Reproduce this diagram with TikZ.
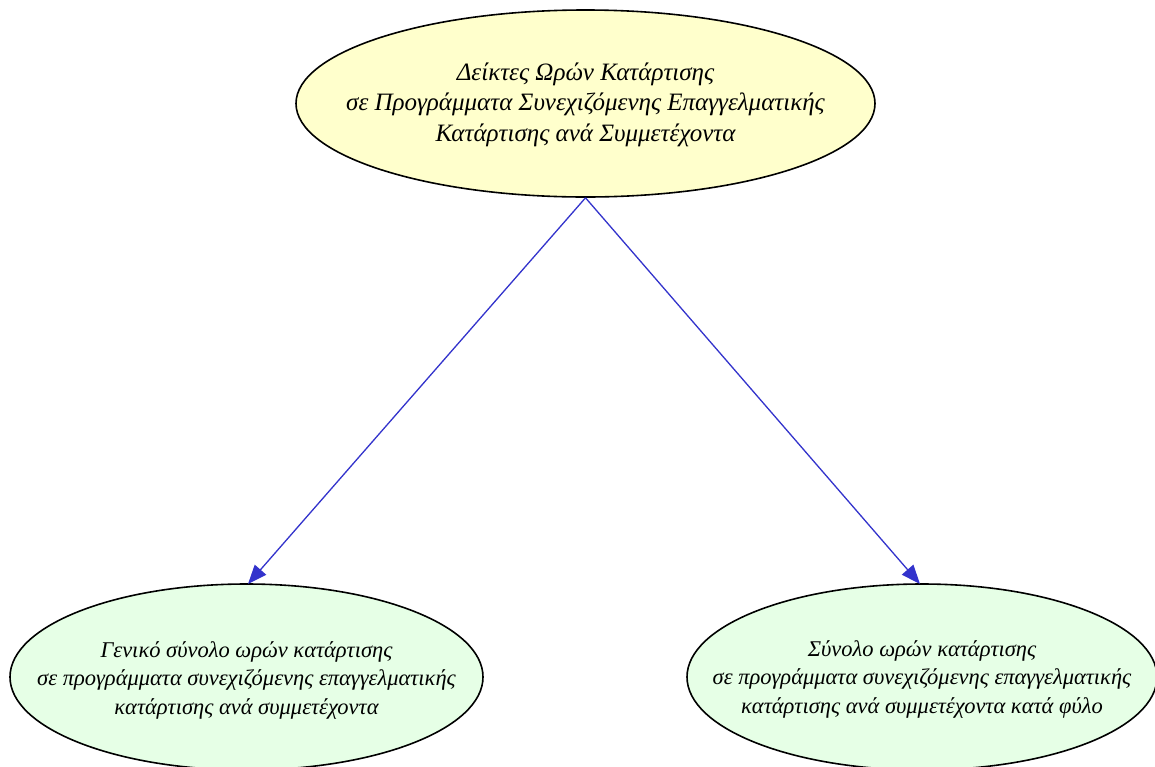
\documentclass[tikz,border=0pt]{standalone}
\usepackage{fontspec}
\setmainfont{Liberation Serif}
\usetikzlibrary{shapes.geometric,arrows.meta}
\definecolor{topfill}{HTML}{FFFFCC}
\definecolor{leaffill}{HTML}{E6FFE6}
\definecolor{edgeblue}{HTML}{3333CC}
\tikzset{
  x=1pt, y=-1pt,
  ell/.style={ellipse, draw=black, line width=1.6pt, inner sep=0pt},
  lbl/.style={align=center, inner sep=0pt, font=\fontsize{25}{30.5}\selectfont\itshape},
  leaflbl/.style={lbl, font=\fontsize{22.5}{28.5}\selectfont\itshape},
  conn/.style={draw=edgeblue, line width=1.3pt, -{Triangle[length=19pt,width=15pt]}}
}
\begin{document}
\begin{tikzpicture}
\useasboundingbox (0,0) rectangle (1155,766);
\clip (0,0) rectangle (1155,766);
\fill[white] (0,0) rectangle (1155,766);
\node[ell, fill=topfill, minimum width=579pt, minimum height=187pt] (root) at (585.5,103.5) {};
\node[lbl] (roottext) at (585.5,104.5)
  {Δείκτες Ωρών Κατάρτισης\\σε Προγράμματα Συνεχιζόμενης Επαγγελματικής\\Κατάρτισης ανά Συμμετέχοντα};
\node[ell, fill=leaffill, minimum width=473pt, minimum height=186pt] (left) at (246.5,677) {};
\node[leaflbl] (lefttext) at (246.5,680)
  {Γενικό σύνολο ωρών κατάρτισης\\σε προγράμματα συνεχιζόμενης επαγγελματικής\\κατάρτισης ανά συμμετέχοντα};
\node[ell, fill=leaffill, minimum width=470pt, minimum height=186pt] (right) at (922,677) {};
\node[leaflbl] (righttext) at (922,679)
  {Σύνολο ωρών κατάρτισης\\σε προγράμματα συνεχιζόμενης επαγγελματικής\\κατάρτισης ανά συμμετέχοντα κατά φύλο};
\coordinate (lend) at (248,584);
\coordinate (rend) at (920,584);
\draw[conn] (root.south) -- (lend);
\draw[conn] (root.south) -- (rend);
\end{tikzpicture}
\end{document}
